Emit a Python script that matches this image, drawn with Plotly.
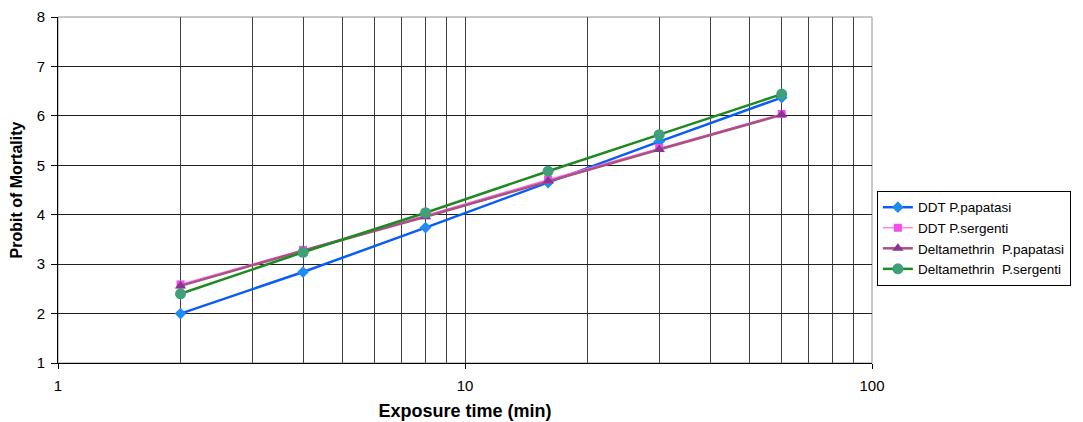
import plotly.graph_objects as go

exposure = [2, 4, 8, 16, 30, 60]
ddt_papatasi = [2.0, 2.84, 3.74, 4.65, 5.48, 6.37]
ddt_sergenti = [2.59, 3.29, 3.99, 4.71, 5.35, 6.04]
delta_papatasi = [2.56, 3.27, 3.96, 4.68, 5.32, 6.02]
delta_sergenti = [2.40, 3.24, 4.04, 4.88, 5.62, 6.44]

major_x = [1, 10, 100]
minor_x = [2, 3, 4, 5, 6, 7, 8, 9, 20, 30, 40, 50, 60, 70, 80, 90]

fig = go.Figure()
fig.add_trace(go.Scatter(x=exposure, y=ddt_papatasi, name="DDT P.papatasi", mode="lines+markers",
                         line=dict(color="#0a5cf5", width=2.5),
                         marker=dict(symbol="diamond", size=9, color="#1e8cf0")))
fig.add_trace(go.Scatter(x=exposure, y=ddt_sergenti, name="DDT P.sergenti", mode="lines+markers",
                         line=dict(color="#ff66ee", width=1.2),
                         marker=dict(symbol="square", size=8, color="#f050e8")))
fig.add_trace(go.Scatter(x=exposure, y=delta_papatasi, name="Deltamethrin  P.papatasi", mode="lines+markers",
                         line=dict(color="#a8527e", width=2.5),
                         marker=dict(symbol="triangle-up", size=10, color="#8a3592")))
fig.add_trace(go.Scatter(x=exposure, y=delta_sergenti, name="Deltamethrin  P.sergenti", mode="lines+markers",
                         line=dict(color="#1f8a1f", width=2.5),
                         marker=dict(symbol="circle", size=11, color="#3f9f78")))

fig.update_layout(
    width=1083, height=422,
    margin=dict(l=50, r=219, t=9, b=67, autoexpand=False),
    paper_bgcolor="white", plot_bgcolor="white",
    font=dict(family="Liberation Sans, Arial, sans-serif", size=15, color="black"),
    legend=dict(x=1.006, y=0.36, xanchor="left", yanchor="middle",
                bordercolor="black", borderwidth=1, bgcolor="white",
                font=dict(size=13.5), tracegroupgap=0),
    showlegend=True,
)
fig.update_xaxes(
    type="log", range=[0, 2], automargin=False,
    tickvals=major_x, ticktext=[str(v) for v in major_x],
    showgrid=True, gridcolor="#404040", gridwidth=1,
    minor=dict(tickvals=minor_x, showgrid=True, gridcolor="#404040", gridwidth=1, ticks=""),
    ticks="outside", ticklen=5, tickcolor="black", ticklabelstandoff=4,
    showline=True, linecolor="black", linewidth=1, mirror=False,
    title=dict(text="<b>Exposure time (min)</b>", font=dict(size=18), standoff=11),
    zeroline=False, ticklabeloverflow="allow",
)
fig.update_yaxes(
    range=[1, 8], dtick=1, automargin=False,
    showgrid=True, gridcolor="#202020", gridwidth=1,
    ticks="outside", ticklen=6, tickcolor="black", ticklabelstandoff=3,
    showline=True, linecolor="black", linewidth=1,
    title=dict(text="<b>Probit of Mortality</b>", font=dict(size=16), standoff=10),
    zeroline=False, ticklabeloverflow="allow",
)
fig.add_shape(type="rect", xref="paper", yref="paper", x0=0, y0=0, x1=1, y1=1,
              line=dict(color="#909090", width=1), layer="below")

fig.write_html("out.html")
